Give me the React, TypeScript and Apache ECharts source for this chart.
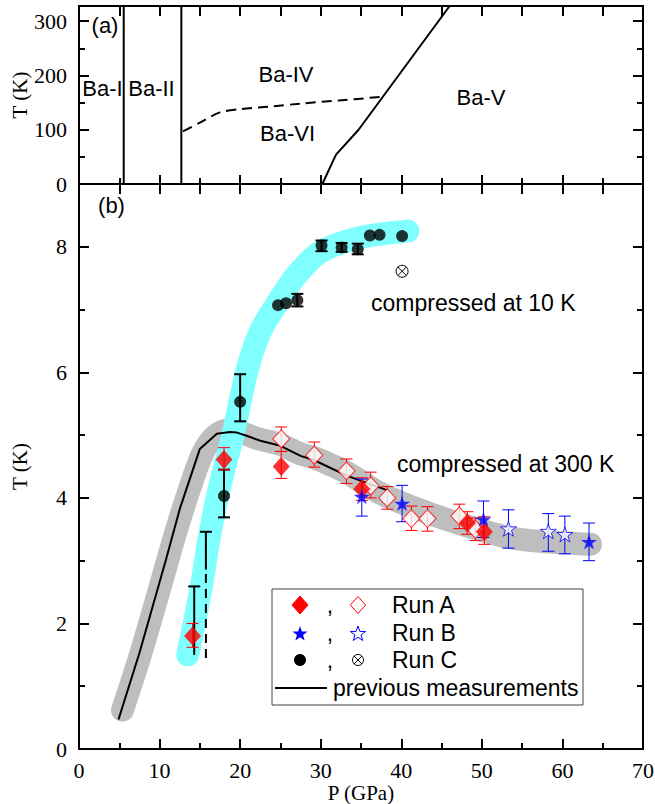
import React, { useEffect, useRef } from "react";
import * as echarts from "echarts";

// ---------- Panel (a): phase diagram boundaries (P in GPa, T in K) ----------
const baIBoundary = [[5.55, 0], [5.55, 328]];
const baIIBoundary = [[12.7, 0], [12.7, 328]];
const baVBoundary = [[30.2, 0], [31.9, 54], [34.7, 100], [46.0, 328]];
const baVIBoundary = [[12.9, 97], [15, 113], [17.5, 132], [20, 138], [24, 143], [27.4, 148], [32.3, 154], [37.5, 160.5]];

// ---------- Panel (b): Tc (K) vs P (GPa) ----------
// guide bands
const band10K = [[13.5, 1.5], [14.3, 2.0], [15.2, 2.6], [16.2, 3.39], [17.5, 4.2], [19.1, 5.0], [20.9, 6.05], [22.5, 6.65], [24.6, 7.1], [27, 7.55], [30, 7.92], [35, 8.15], [40.8, 8.25]];
const band300K = [[5.4, 0.62], [7.5, 1.45], [10, 2.55], [12, 3.45], [14, 4.25], [15.5, 4.75], [17, 5.0], [18.5, 5.08], [20, 5.05], [22, 4.95], [25, 4.85], [27.5, 4.7], [29.2, 4.64], [33.3, 4.4], [37, 4.1], [41.25, 3.86], [47, 3.6], [53.3, 3.37], [58, 3.3], [63.5, 3.26]];
// previous measurements
const previous = [[4.9, 0.47], [7.5, 1.53], [10.8, 3.02], [12.5, 3.82], [15, 4.78], [17.1, 5.02], [18.75, 5.05], [19.6, 5.04], [20.8, 4.99], [22.5, 4.91], [25, 4.83], [27.5, 4.67], [29.2, 4.6], [33.3, 4.35], [38.3, 4.12]];
const previousBarSolid = [[15.75, 2.86, 3.46]];
const previousBarDashed = [[15.75, 1.45, 2.86]];

// Run A: [P, Tc, low, high]
const runAFilled = [[14.1, 1.8, 1.62, 2.0], [18, 4.61, 4.45, 4.8], [25.1, 4.5, 4.31, 4.74], [35.1, 4.14, 3.96, 4.32], [48.2, 3.6, 3.42, 3.78], [50.3, 3.46, 3.26, 3.7]];
const runAOpen = [[25.1, 4.94, 4.74, 5.13], [29.2, 4.68, 4.49, 4.89], [33.2, 4.43, 4.23, 4.62], [36.2, 4.19, 4.0, 4.41], [38.25, 4.0, 3.82, 4.18], [41.25, 3.67, 3.48, 3.87], [43.25, 3.67, 3.47, 3.86], [47.2, 3.71, 3.51, 3.9], [49.2, 3.5, 3.32, 3.68]];
// Run B
const runBFilled = [[35.1, 4.02, 3.71, 4.3], [40.1, 3.91, 3.62, 4.2], [50.2, 3.66, 3.37, 3.95], [63.3, 3.3, 3.0, 3.6]];
const runBOpen = [[53.3, 3.51, 3.2, 3.81], [58.25, 3.47, 3.15, 3.75], [60.3, 3.42, 3.11, 3.71]];
// Run C
const runCFilled = [[18, 4.03], [20, 5.53], [24.7, 7.07], [25.7, 7.1], [27.1, 7.15], [30.1, 8.02], [32.6, 7.99], [34.6, 7.96], [36.1, 8.18], [37.3, 8.19], [40.1, 8.17]];
const runCErr = [[18, 3.69, 4.45], [20, 5.22, 5.97], [27.1, 7.05, 7.25], [30.1, 7.93, 8.1], [32.6, 7.92, 8.06], [34.6, 7.88, 8.05]];
const runCBarOnly = [[14.3, 1.5, 2.59]];
const runCOpen = [[40.1, 7.61]];

const SANS = '"Liberation Sans", Arial, Helvetica, sans-serif';
const SERIF = "Liberation Serif";
const STAR = "path://M50,2 L61.2,36.3 L97.6,36.3 L68.2,57.5 L79.4,91.8 L50,70.6 L20.6,91.8 L31.8,57.5 L2.4,36.3 L38.8,36.3 Z";

function errRender(color: string, width: number, capTop = true, capBot = true, dash?: number[]) {
  return (_params: any, api: any) => {
    const x = api.value(0);
    const a = api.coord([x, api.value(1)]);
    const b = api.coord([x, api.value(2)]);
    const hw = 6;
    const children: any[] = [
      { type: "line", shape: { x1: a[0], y1: a[1], x2: b[0], y2: b[1] }, style: { stroke: color, lineWidth: width, lineDash: dash } },
    ];
    if (capTop) children.push({ type: "line", shape: { x1: b[0] - hw, y1: b[1], x2: b[0] + hw, y2: b[1] }, style: { stroke: color, lineWidth: width } });
    if (capBot) children.push({ type: "line", shape: { x1: a[0] - hw, y1: a[1], x2: a[0] + hw, y2: a[1] }, style: { stroke: color, lineWidth: width } });
    return { type: "group", children };
  };
}

function crossedCircle(cx: number, cy: number, r: number) {
  const d = r * 0.72;
  return [
    { type: "circle", shape: { cx, cy, r }, style: { fill: "#fff", stroke: "#000", lineWidth: 1 } },
    { type: "line", shape: { x1: cx - d, y1: cy - d, x2: cx + d, y2: cy + d }, style: { stroke: "#000", lineWidth: 1 } },
    { type: "line", shape: { x1: cx + d, y1: cy - d, x2: cx - d, y2: cy + d }, style: { stroke: "#000", lineWidth: 1 } },
  ];
}

function starPts(cx: number, cy: number, R: number) {
  const pts: number[][] = [];
  for (let i = 0; i < 10; i++) {
    const ang = -Math.PI / 2 + (i * Math.PI) / 5;
    const rad = i % 2 === 0 ? R : R * 0.4;
    pts.push([cx + rad * Math.cos(ang), cy + rad * Math.sin(ang)]);
  }
  return pts;
}

export default function App() {
  const ref = useRef<HTMLDivElement>(null);
  useEffect(() => {
    if (!ref.current) return;
    const chart = echarts.init(ref.current, undefined, { renderer: "svg" });

    const axisLine = { show: true, onZero: false, lineStyle: { color: "#000", width: 2 } };
    const tick = (len: number, show = true) => ({ show, inside: true, length: len, lineStyle: { color: "#000", width: 2 } });
    const noLabel = { show: false };
    const label = { show: true, color: "#000", fontFamily: SERIF, fontSize: 22, margin: 12, showMaxLabel: false };
    const nameStyle = { color: "#000", fontFamily: SERIF, fontSize: 21 };

    const xA = (grid: number, pos: string, interval: number, len: number, minor: boolean, showLabel: boolean, name?: string) => ({
      type: "value", gridIndex: grid, position: pos, min: 0, max: 70, interval,
      axisLine, axisTick: tick(len),
      minorTick: { show: minor, splitNumber: 2, length: 6, lineStyle: { color: "#000", width: 2 } },
      axisLabel: showLabel ? { ...label, showMaxLabel: true, margin: 10 } : noLabel,
      splitLine: { show: false }, minorSplitLine: { show: false },
      name: name, nameLocation: "middle", nameGap: 33, nameMoveOverlap: false,
      nameTextStyle: nameStyle,
    });
    const yA = (grid: number, pos: string, max: number, interval: number, len: number, showLabel: boolean, name?: string) => ({
      type: "value", gridIndex: grid, position: pos, min: 0, max, interval,
      axisLine, axisTick: tick(len),
      axisLabel: showLabel ? label : noLabel,
      splitLine: { show: false },
      name: name, nameLocation: "middle", nameGap: 49, nameMoveOverlap: false,
      nameTextStyle: nameStyle,
    });

    const txt = (text: string, x: number, y: number, align = "center", size = 22) => ({
      type: "text", x, y, silent: true, z: 100,
      style: { text, fill: "#000", font: `${size}px ${SANS}`, align, verticalAlign: "middle" },
    });

    const dia = (cx: number, cy: number, h: number, fill: string, stroke?: string) => ({
      type: "polygon", silent: true, z: 101,
      shape: { points: [[cx, cy - h], [cx + h * 0.9, cy], [cx, cy + h], [cx - h * 0.9, cy]] },
      style: { fill, stroke: stroke || fill, lineWidth: 1 },
    });

    const lx1 = 300, lx2 = 358, rows = [605, 633, 660, 688];
    const legend: any[] = [
      { type: "rect", z: 100, silent: true, shape: { x: 272, y: 589, width: 311, height: 116 }, style: { fill: "#fff", stroke: "#444", lineWidth: 1 } },
      dia(lx1, rows[0], 9, "#f00"),
      txt(",", 330, rows[0], "center", 23),
      dia(lx2, rows[0], 8.5, "#fff", "#f00"),
      txt("Run A", 392, rows[0], "left", 23),
      { type: "polygon", z: 101, silent: true, shape: { points: starPts(lx1, rows[1] + 1, 8) }, style: { fill: "#00f" } },
      txt(",", 330, rows[1], "center", 23),
      { type: "polygon", z: 101, silent: true, shape: { points: starPts(lx2, rows[1] + 1, 8) }, style: { fill: "#fff", stroke: "#00f", lineWidth: 1 } },
      txt("Run B", 392, rows[1], "left", 23),
      { type: "circle", z: 101, silent: true, shape: { cx: lx1, cy: rows[2], r: 6 }, style: { fill: "#000" } },
      txt(",", 330, rows[2], "center", 23),
      ...crossedCircle(lx2, rows[2], 5.5).map((e) => ({ ...e, z: 101, silent: true })),
      txt("Run C", 392, rows[2], "left", 23),
      { type: "line", z: 101, silent: true, shape: { x1: 275, y1: rows[3], x2: 327, y2: rows[3] }, style: { stroke: "#000", lineWidth: 2 } },
      txt("previous measurements", 333, rows[3], "left", 23),
    ];

    const xyTop = { xAxisIndex: 0, yAxisIndex: 0 };
    const xyBot = { xAxisIndex: 2, yAxisIndex: 4 };

    const option: any = {
      animation: false,
      backgroundColor: "#fff",
      textStyle: { fontFamily: SERIF },
      grid: [
        { left: 79, top: 6, width: 564, height: 178, containLabel: false, outerBoundsMode: "none" },
        { left: 79, top: 184, width: 564, height: 565, containLabel: false, outerBoundsMode: "none" },
      ],
      xAxis: [
        xA(0, "bottom", 10, 9, true, false),
        xA(0, "top", 5, 10, false, false),
        xA(1, "bottom", 10, 10, true, true, "P (GPa)"),
        xA(1, "top", 5, 10, false, false),
      ],
      yAxis: [
        yA(0, "left", 328, 100, 10, true, "T (K)"),
        yA(0, "left", 328, 50, 6, false),
        yA(0, "right", 328, 100, 10, false),
        yA(0, "right", 328, 50, 6, false),
        yA(1, "left", 9, 2, 10, true, "T (K)"),
        yA(1, "left", 9, 1, 6, false),
        yA(1, "right", 9, 2, 10, false),
        yA(1, "right", 9, 1, 6, false),
      ],
      series: [
        // panel (a)
        { type: "line", ...xyTop, data: baIBoundary, symbol: "none", silent: true, lineStyle: { color: "#000", width: 2 } },
        { type: "line", ...xyTop, data: baIIBoundary, symbol: "none", silent: true, lineStyle: { color: "#000", width: 2 } },
        { type: "line", ...xyTop, data: baVBoundary, symbol: "none", silent: true, lineStyle: { color: "#000", width: 2 } },
        { type: "line", ...xyTop, data: baVIBoundary, symbol: "none", silent: true, smooth: 0.3, lineStyle: { color: "#000", width: 2, type: [10, 6] } },
        // panel (b) bands
        { type: "line", ...xyBot, data: band300K, symbol: "none", silent: true, smooth: 0.3, z: 1, lineStyle: { color: "#bebebe", width: 23, cap: "round", join: "round" } },
        { type: "line", ...xyBot, data: band10K, symbol: "none", silent: true, smooth: 0.3, z: 2, lineStyle: { color: "#80ffff", width: 23, cap: "round", join: "round" } },
        { type: "line", ...xyBot, data: previous, symbol: "none", silent: true, z: 3, lineStyle: { color: "#000", width: 2 } },
        { type: "custom", ...xyBot, silent: true, z: 3, data: previousBarSolid, encode: { x: 0, y: [1, 2] }, renderItem: errRender("#000", 2, true, false) },
        { type: "custom", ...xyBot, silent: true, z: 3, data: previousBarDashed, encode: { x: 0, y: [1, 2] }, renderItem: errRender("#000", 2, false, false, [9, 6]) },
        // error bars
        { type: "custom", ...xyBot, silent: true, z: 4, data: runCBarOnly, encode: { x: 0, y: [1, 2] }, renderItem: errRender("#000", 2, true, false) },
        { type: "custom", ...xyBot, silent: true, z: 4, data: runCErr, encode: { x: 0, y: [1, 2] }, renderItem: errRender("#000", 2) },
        { type: "custom", ...xyBot, silent: true, z: 4, data: runAOpen.map((d) => [d[0], d[2], d[3]]), encode: { x: 0, y: [1, 2] }, renderItem: errRender("#f00", 1) },
        { type: "custom", ...xyBot, silent: true, z: 4, data: runAFilled.map((d) => [d[0], d[2], d[3]]), encode: { x: 0, y: [1, 2] }, renderItem: errRender("#f00", 1) },
        { type: "custom", ...xyBot, silent: true, z: 4, data: runBOpen.map((d) => [d[0], d[2], d[3]]), encode: { x: 0, y: [1, 2] }, renderItem: errRender("#00f", 1) },
        { type: "custom", ...xyBot, silent: true, z: 4, data: runBFilled.map((d) => [d[0], d[2], d[3]]), encode: { x: 0, y: [1, 2] }, renderItem: errRender("#00f", 1) },
        // markers
        { type: "scatter", ...xyBot, silent: true, z: 5, data: runCFilled, symbol: "circle", symbolSize: 12, itemStyle: { color: "#000" } },
        {
          type: "custom", ...xyBot, silent: true, z: 5, data: runCOpen, encode: { x: 0, y: 1 },
          renderItem: (_p: any, api: any) => {
            const c = api.coord([api.value(0), api.value(1)]);
            return { type: "group", children: crossedCircle(c[0], c[1], 6) };
          },
        },
        { type: "scatter", ...xyBot, silent: true, z: 6, data: runAOpen.map((d) => [d[0], d[1]]), symbol: "diamond", symbolSize: [17, 18], itemStyle: { color: "#fff", borderColor: "#f00", borderWidth: 1 } },
        { type: "scatter", ...xyBot, silent: true, z: 6, data: runAFilled.map((d) => [d[0], d[1]]), symbol: "diamond", symbolSize: [17, 19], itemStyle: { color: "#f00" } },
        { type: "scatter", ...xyBot, silent: true, z: 7, data: runBOpen.map((d) => [d[0], d[1]]), symbol: STAR, symbolSize: 16, symbolKeepAspect: true, itemStyle: { color: "#fff", borderColor: "#00f", borderWidth: 1 } },
        { type: "scatter", ...xyBot, silent: true, z: 7, data: runBFilled.map((d) => [d[0], d[1]]), symbol: STAR, symbolSize: 16, symbolKeepAspect: true, itemStyle: { color: "#00f" } },
      ],
      graphic: [
        txt("(a)", 105, 25),
        txt("Ba-I", 102.5, 88),
        txt("Ba-II", 151.5, 88),
        txt("Ba-IV", 286, 74),
        txt("Ba-VI", 287.5, 133),
        txt("Ba-V", 481, 97),
        txt("(b)", 111.5, 205),
        txt("compressed at 10 K", 371, 303, "left", 23),
        txt("compressed at 300 K", 397, 464, "left", 23),
        ...legend,
      ],
    };
    chart.setOption(option);
    return () => chart.dispose();
  }, []);
  return <div ref={ref} style={{ position: "absolute", left: 0, top: 0, width: 655, height: 804 }} />;
}
